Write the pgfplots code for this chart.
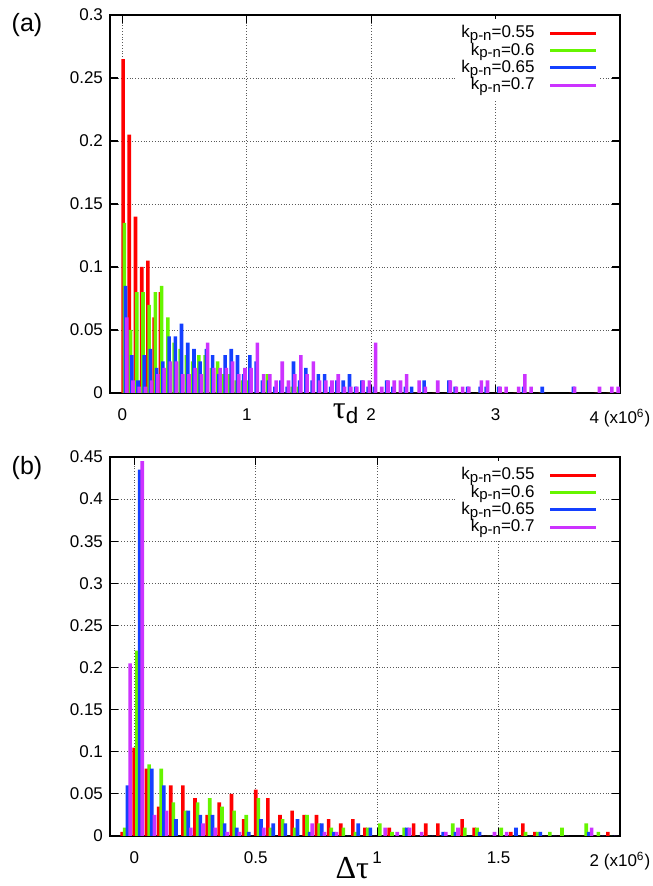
\documentclass[border=0pt]{standalone}
\usepackage{pgfplots}
\pgfplotsset{compat=1.18}
\usepackage{pgfplotstable}
\usepackage{fontspec}
\setmainfont{Liberation Sans}
\newfontfamily\greek{Liberation Serif}

\definecolor{kred}{RGB}{255,0,0}
\definecolor{kgreen}{RGB}{102,245,0}
\definecolor{kblue}{RGB}{20,64,255}
\definecolor{kmag}{RGB}{204,51,255}

% panel (a): tau_d histogram, x in units of 10^6, bins of 0.05
\pgfplotstableread{
x R G B M
0.00 .265 .135 .085 .06
0.05 .205 .05 .03 .01
0.10 .14 .08 .01 .005
0.15 .10 .08 .03 .005
0.20 .105 .07 .035 .01
0.25 .06 .08 .02 .015
0.30 .08 .085 .025 .02
0.35 0 .06 .045 .025
0.40 0 .04 .045 .025
0.45 0 .035 .055 .015
0.50 0 .03 .04 .015
0.55 0 .025 .035 .02
0.60 0 .03 .025 .015
0.65 0 .03 .035 .04
0.70 0 .02 .03 .02
0.75 0 .025 .015 .02
0.80 0 .015 .03 .02
0.85 0 .015 .035 .025
0.90 0 .01 .03 .015
0.95 0 .01 .015 .02
1.00 0 .01 .03 .02
1.05 0 0 .025 .04
1.10 0 0 .01 .015
1.15 0 .015 .01 .015
1.20 0 0 .005 .01
1.25 0 0 .01 .025
1.30 0 0 .005 .01
1.35 0 .005 .025 .015
1.40 0 .005 .01 .03
1.45 0 0 .02 .015
1.50 0 0 .01 .025
1.55 0 0 .015 .01
1.60 0 0 .015 .01
1.65 0 0 .005 .01
1.70 0 0 .01 .015
1.75 0 0 .01 .005
1.80 0 0 .015 .005
1.85 0 0 .005 .005
1.90 0 0 .01 .01
1.95 0 0 .005 .01
2.00 0 0 .005 .04
2.05 0 0 0 .005
2.10 0 0 .01 .01
2.15 0 0 .005 .01
2.20 0 0 0 .01
2.25 0 0 .005 .015
2.30 0 0 .005 0
2.35 0 0 0 .01
2.40 0 0 .01 .005
2.50 0 0 0 .01
2.60 0 0 .01 .01
2.65 0 0 .005 .005
2.70 0 0 0 .005
2.75 0 0 .005 .005
2.85 0 0 .005 .01
2.90 0 0 .005 .01
3.00 0 0 .005 .005
3.05 0 0 0 .005
3.15 0 0 0 .005
3.20 0 0 .005 .015
3.25 0 0 0 .005
3.35 0 0 .005 0
3.60 0 0 .005 .005
3.80 0 0 0 .005
3.90 0 0 0 .005
3.95 0 0 0 .005
}\taud

% panel (b): delta tau histogram
\pgfplotstableread{
x R G B M
-0.05 .005 .01 .06 .205
0.00 .105 .22 .435 .445
0.05 .08 .085 .08 .025
0.10 .035 .08 .06 .03
0.15 .06 .04 .02 0
0.20 .06 .03 .03 .01
0.25 .045 .04 .025 .015
0.30 .025 .045 .025 .01
0.35 .04 .035 .015 .005
0.40 .05 .03 .01 .005
0.45 .02 .025 .005 0
0.50 .055 .045 .02 .01
0.55 .045 .01 .015 0
0.60 .025 .02 .015 0
0.65 .03 .01 .02 0
0.70 .025 .025 .005 .015
0.75 .025 .015 .015 .005
0.80 .02 .01 .005 .005
0.85 .015 .01 0 0
0.90 .02 .005 .015 0
0.95 .01 .01 .01 0
1.00 0 .015 0 .01
1.05 .01 .005 0 .005
1.10 0 .01 .01 .01
1.15 .015 0 0 .005
1.20 .015 0 0 0
1.25 .015 0 .005 .005
1.30 0 .015 .005 .01
1.35 .02 .01 0 0
1.40 .01 .01 .005 0
1.45 0 0 0 .005
1.50 0 .01 0 .005
1.55 .005 0 .01 0
1.60 .015 .005 0 0
1.65 .005 .005 .005 0
1.70 0 .005 0 0
1.75 0 .01 0 0
1.85 0 .015 .005 .01
1.90 0 .005 0 0
1.95 .005 0 0 0
}\dtau

\newcommand{\kpn}[1]{k{\fontsize{7.5}{8}\selectfont\raisebox{-0.35ex}{p-n}}=#1}

\pgfplotsset{
  histo/.style={
    scale only axis,
    width=255pt,
    anchor=north west,
    axis line style={line width=1pt},
    tick style={black, line width=0.6pt},
    major tick length=4pt,
    grid=major,
    grid style={densely dotted, black!65, line width=0.4pt},
    tick label style={font=\fontsize{8.5}{10}\selectfont},
    xticklabel style={yshift=-4.5pt},
    /pgf/number format/assume math mode=true,
    scaled y ticks=false,
    scaled x ticks=false,
    yticklabel style={/pgf/number format/fixed},
    legend style={draw=none, fill=white, inner sep=1pt,
      font=\fontsize{8.5}{9}\selectfont,
      anchor=north east, at={(axis description cs:1,1)},
      xshift=-10pt, yshift=-2pt, row sep=-3pt,
      /tikz/column sep=5pt},
    legend cell align=right,
    legend plot pos=right,
    legend image code/.code={\draw[#1, line width=1.5pt] (0pt,0pt) -- (23pt,0pt);},
  },
  kbar/.style={ybar, draw=none, fill=#1, forget plot},
}

\begin{document}
\begin{tikzpicture}
\path[use as bounding box] (0,0) rectangle (326pt,-443pt);

\node[font=\fontsize{12.5}{14}\selectfont] at (13.5pt,-12.5pt) {(a)};
\node[font=\fontsize{12.5}{14}\selectfont] at (13.5pt,-234pt) {(b)};

\begin{axis}[histo,
  at={(55pt,-7.5pt)}, height=189pt,
  xmin=-0.1, xmax=4, ymin=0, ymax=0.3,
  xtick={0,1,2,3,4},
  xticklabels={0,1,2,3,{4 (x10\textsuperscript{6})}},
  ytick={0,0.05,0.1,0.15,0.2,0.25,0.3},
  xlabel={{\greek τ}\textsubscript{d}},
  xlabel style={at={(axis description cs:0.463,0)}, anchor=north, yshift=-2pt,
    font=\fontsize{16}{18}\selectfont},
]
\addlegendimage{kred}\addlegendentry{\kpn{0.55}}
\addlegendimage{kgreen}\addlegendentry{\kpn{0.6}}
\addlegendimage{kblue}\addlegendentry{\kpn{0.65}}
\addlegendimage{kmag}\addlegendentry{\kpn{0.7}}
\addplot[kbar=kred, bar width=0.029, bar shift=0.005] table[x=x, y=R] {\taud};
\addplot[kbar=kgreen, bar width=0.029, bar shift=0.015] table[x=x, y=G] {\taud};
\addplot[kbar=kblue, bar width=0.029, bar shift=0.025] table[x=x, y=B] {\taud};
\addplot[kbar=kmag, bar width=0.029, bar shift=0.035] table[x=x, y=M] {\taud};
\end{axis}

\begin{axis}[histo,
  at={(55pt,-228.5pt)}, height=189.5pt,
  xmin=-0.1, xmax=2, ymin=0, ymax=0.45,
  xtick={0,0.5,1,1.5,2},
  xticklabels={0,0.5,1,1.5,{2 (x10\textsuperscript{6})}},
  ytick={0,0.05,0.1,0.15,0.2,0.25,0.3,0.35,0.4,0.45},
  xlabel={{\greek Δτ}},
  xlabel style={at={(axis description cs:0.475,0)}, anchor=north, yshift=-7pt,
    font=\fontsize{16}{18}\selectfont},
]
\addlegendimage{kred}\addlegendentry{\kpn{0.55}}
\addlegendimage{kgreen}\addlegendentry{\kpn{0.6}}
\addlegendimage{kblue}\addlegendentry{\kpn{0.65}}
\addlegendimage{kmag}\addlegendentry{\kpn{0.7}}
\addplot[kbar=kred, bar width=0.015, bar shift=0] table[x=x, y=R] {\dtau};
\addplot[kbar=kgreen, bar width=0.015, bar shift=0.011] table[x=x, y=G] {\dtau};
\addplot[kbar=kblue, bar width=0.015, bar shift=0.022] table[x=x, y=B] {\dtau};
\addplot[kbar=kmag, bar width=0.015, bar shift=0.033] table[x=x, y=M] {\dtau};
\end{axis}
\end{tikzpicture}
\end{document}
